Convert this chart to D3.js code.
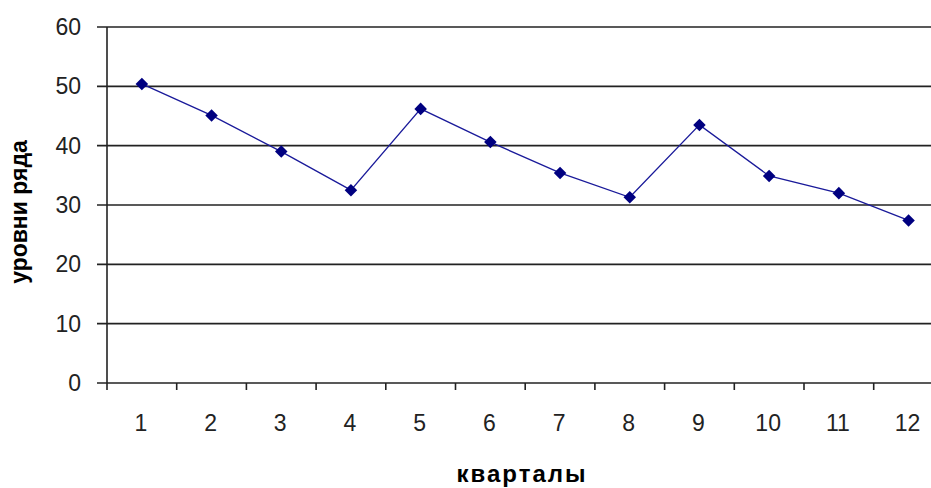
<!DOCTYPE html>
<html>
<head>
<meta charset="utf-8">
<script src="https://cdn.jsdelivr.net/npm/d3@7"></script>
<style>
  body { margin: 0; background: #fff; }
  svg { display: block; font-family: "Liberation Sans", Arial, sans-serif; }
</style>
</head>
<body>
<div id="chart"></div>
<script>
/* Quarterly series levels, plotted as a line with diamond markers */
var quarters = ["1", "2", "3", "4", "5", "6", "7", "8", "9", "10", "11", "12"];
var levels = [50.4, 45.1, 39.0, 32.5, 46.2, 40.6, 35.4, 31.3, 43.5, 34.9, 32.0, 27.4];
var yTicks = [0, 10, 20, 30, 40, 50, 60];

(function () {
  "use strict";

  var W = 931, H = 488;
  var ml = 107, mt = 27, bandW = 69.7;
  var iw = bandW * quarters.length, ih = 356;

  var svg = d3.select("#chart").append("svg").attr("width", W).attr("height", H);
  var g = svg.append("g").attr("transform", "translate(" + ml + "," + mt + ")");

  var x = d3.scaleBand().domain(quarters).range([0, iw]);
  var y = d3.scaleLinear().domain([0, 60]).range([ih, 0]);

  // horizontal gridlines + left ticks
  g.selectAll(".grid").data(yTicks).enter().append("line")
    .attr("x1", -10).attr("x2", iw)
    .attr("y1", function (d) { return y(d); }).attr("y2", function (d) { return y(d); })
    .attr("stroke", "#222").attr("stroke-width", 1.6);

  g.selectAll(".ylab").data(yTicks).enter().append("text")
    .attr("x", -26).attr("y", function (d) { return y(d); })
    .attr("dy", "0.35em").attr("text-anchor", "end")
    .attr("font-size", 23).attr("fill", "#222")
    .text(function (d) { return d; });

  // y axis line
  g.append("line").attr("x1", 0).attr("x2", 0).attr("y1", 0).attr("y2", ih + 7)
    .attr("stroke", "#222").attr("stroke-width", 1.6);

  // x ticks between categories
  var tickPos = quarters.map(function (q) { return x(q) + x.bandwidth(); });
  g.selectAll(".xtick").data(tickPos).enter().append("line")
    .attr("x1", function (d) { return d; }).attr("x2", function (d) { return d; })
    .attr("y1", ih).attr("y2", ih + 7)
    .attr("stroke", "#222").attr("stroke-width", 1.6);

  g.selectAll(".xlab").data(quarters).enter().append("text")
    .attr("x", function (d) { return x(d) + x.bandwidth() / 2 - 1; })
    .attr("y", ih + 40).attr("dy", "0.35em").attr("text-anchor", "middle")
    .attr("font-size", 23).attr("fill", "#222")
    .text(function (d) { return d; });

  // series line
  var pts = quarters.map(function (q, i) { return { q: q, v: levels[i] }; });
  var line = d3.line()
    .x(function (d) { return x(d.q) + x.bandwidth() / 2; })
    .y(function (d) { return y(d.v); });

  g.append("path").datum(pts)
    .attr("fill", "none").attr("stroke", "#1a1a9a").attr("stroke-width", 1.3)
    .attr("d", line);

  g.selectAll(".pt").data(pts).enter().append("path")
    .attr("d", d3.symbol().type(d3.symbolDiamond2).size(100))
    .attr("transform", function (d) {
      return "translate(" + (x(d.q) + x.bandwidth() / 2) + "," + y(d.v) + ")";
    })
    .attr("fill", "#000080");

  // axis titles
  svg.append("text")
    .attr("x", 522).attr("y", 474).attr("dy", "0.35em")
    .attr("text-anchor", "middle").attr("font-size", 24).attr("font-weight", "bold")
    .attr("letter-spacing", 2).attr("fill", "#000")
    .text("кварталы");

  svg.append("text")
    .attr("transform", "translate(19," + (mt + ih / 2 + 7) + ") rotate(-90)")
    .attr("dy", "0.35em").attr("text-anchor", "middle")
    .attr("font-size", 23).attr("font-weight", "bold")
    .attr("fill", "#000")
    .text("уровни ряда");
})();
</script>
</body>
</html>
